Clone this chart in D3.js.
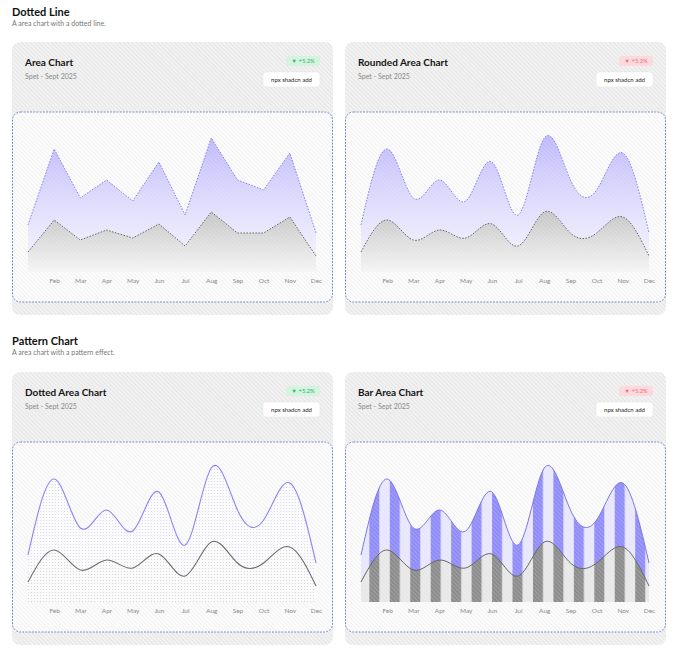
<!DOCTYPE html>
<html>
<head>
<meta charset="utf-8">
<script src="https://cdn.jsdelivr.net/npm/d3@7"></script>
<style>
  html, body { margin: 0; padding: 0; background: #ffffff; }
  svg { display: block; font-family: Lato, "Noto Sans", sans-serif; }
</style>
</head>
<body>
<div id="viz"></div>
<script>
// chart values
var months = ["Jan", "Feb", "Mar", "Apr", "May", "Jun", "Jul", "Aug", "Sep", "Oct", "Nov", "Dec"];
var tickMonths = ["Feb", "Mar", "Apr", "May", "Jun", "Jul", "Aug", "Sep", "Oct", "Nov", "Dec"];
var desktop = [94, 246, 148, 184, 142, 220, 114, 268, 184, 164, 238, 78];
var mobile = [40, 104, 64, 84, 68, 96, 52, 120, 78, 78, 110, 32];

var sections = [
	{ title: "Dotted Line", sub: "A area chart with a dotted line.", y: 16 },
	{ title: "Pattern Chart", sub: "A area chart with a pattern effect.", y: 345 }
];

var cardTitles = ["Area Chart", "Rounded Area Chart", "Dotted Area Chart", "Bar Area Chart"];
var cardTrends = ["up", "down", "up", "down"];
var cardStyles = ["dotted", "dotted", "dots", "bars"];
var cardPos = [[12, 42], [345, 42], [12, 372], [345, 372]];

var W = 680, H = 656, cardW = 321, cardH = 273;

var svg = d3.select("#viz")
	.append("svg")
	.attr("width", W)
	.attr("height", H);

var defs = svg.append("defs");

// diagonal hatch used on card backgrounds
function hatch(id, bg, line, width, opacity){
	var p = defs.append("pattern")
		.attr("id", id)
		.attr("patternUnits", "userSpaceOnUse")
		.attr("width", 3)
		.attr("height", 3)
		.attr("patternTransform", "rotate(-45)");
	if (bg) p.append("rect").attr("width", 3).attr("height", 3).attr("fill", bg);
	p.append("line")
		.attr("x1", 0.5).attr("y1", 0).attr("x2", 0.5).attr("y2", 3)
		.attr("stroke", line)
		.attr("stroke-width", width)
		.attr("stroke-opacity", opacity);
}
hatch("cardHatch", "#f2f2f2", "#e5e5e5", 1, 1);
hatch("boxHatch", "#fcfcfc", "#f0f0f0", 1, 1);
hatch("overHatch", null, "#ffffff", 0.8, 0.22);

function gradient(id, top, bottom, topOp, bottomOp){
	var g = defs.append("linearGradient")
		.attr("id", id)
		.attr("x1", 0).attr("y1", 0).attr("x2", 0).attr("y2", 1);
	g.append("stop").attr("offset", "0%").attr("stop-color", top).attr("stop-opacity", topOp);
	g.append("stop").attr("offset", "100%").attr("stop-color", bottom).attr("stop-opacity", bottomOp);
}
gradient("gradPurple", "#bdb7fb", "#f3f1ff", 1, 0.6);
gradient("gradGray", "#c4c4c4", "#f4f4f4", 1, 0.9);

function dots(id, color){
	var p = defs.append("pattern")
		.attr("id", id)
		.attr("patternUnits", "userSpaceOnUse")
		.attr("width", 3)
		.attr("height", 3);
	p.append("rect").attr("width", 3).attr("height", 3).attr("fill", "#fbfbfb");
	p.append("circle").attr("cx", 1.5).attr("cy", 1.5).attr("r", 0.6).attr("fill", color);
}
dots("dotsPurple", "#d4d1f2");
dots("dotsGray", "#cfcfcf");

function stripes(id, dark, light){
	var period = 20.45;
	var p = defs.append("pattern")
		.attr("id", id)
		.attr("patternUnits", "userSpaceOnUse")
		.attr("x", 3.9)
		.attr("width", period)
		.attr("height", 10);
	p.append("rect").attr("width", period).attr("height", 10).attr("fill", light);
	p.append("rect").attr("width", 10).attr("height", 10).attr("fill", dark);
}
stripes("stripesPurple", "#8f8cf8", "#e7e6fd");
stripes("stripesGray", "#8c8c8c", "#e7e7e7");

// section headers
sections.forEach(function(s){
	svg.append("text")
		.attr("x", 12).attr("y", s.y)
		.attr("font-size", 11).attr("font-weight", 700).attr("fill", "#111")
		.text(s.title);
	svg.append("text")
		.attr("x", 12).attr("y", s.y + 9.5)
		.attr("font-size", 7).attr("fill", "#777")
		.text(s.sub);
});

var x = d3.scalePoint().domain(months).range([16, 304]);
var y = d3.scaleLinear().domain([0, 300]).range([230, 80]);

var styles = {
	dotted: {
		fillTop: "url(#gradPurple)", fillBottom: "url(#gradGray)",
		strokeTop: "#8a82ec", strokeBottom: "#6a6a6a", dash: "1.6 1.4", width: 1
	},
	dots: {
		fillTop: "url(#dotsPurple)", fillBottom: "url(#dotsGray)",
		strokeTop: "#8d85f0", strokeBottom: "#6c6c6c", dash: null, width: 1.1
	},
	bars: {
		fillTop: "url(#stripesPurple)", fillBottom: "url(#stripesGray)",
		strokeTop: "#7d76e4", strokeBottom: "#666666", dash: null, width: 1
	}
};

cardTitles.forEach(function(title, i){
	var g = svg.append("g").attr("transform", "translate(" + cardPos[i][0] + "," + cardPos[i][1] + ")");
	var st = styles[cardStyles[i]];
	var curve = i === 0 ? d3.curveLinear : d3.curveNatural;

	g.append("rect")
		.attr("width", cardW).attr("height", cardH)
		.attr("rx", 8)
		.attr("fill", "url(#cardHatch)");

	g.append("text")
		.attr("x", 13).attr("y", 24)
		.attr("font-size", 10).attr("font-weight", 700).attr("fill", "#141414")
		.text(title);
	g.append("text")
		.attr("x", 13).attr("y", 36.5)
		.attr("font-size", 7).attr("fill", "#8a8a8a")
		.text("Spet - Sept 2025");

	// trend badge
	var up = cardTrends[i] === "up";
	g.append("rect")
		.attr("x", 274).attr("y", 14).attr("width", 34).attr("height", 10).attr("rx", 3)
		.attr("fill", up ? "#d4f4df" : "#fbd9dc");
	g.append("text")
		.attr("x", 291).attr("y", 21.3)
		.attr("text-anchor", "middle")
		.attr("font-size", 5.8).attr("fill", up ? "#2fb36b" : "#ef6f7d")
		.text("\u25BC +5.2%");

	// button
	g.append("rect")
		.attr("x", 251).attr("y", 30).attr("width", 57).attr("height", 15).attr("rx", 3)
		.attr("fill", "#ffffff")
		.attr("stroke", "#e6e6e6").attr("stroke-width", 0.6);
	g.append("text")
		.attr("x", 279.5).attr("y", 39.8)
		.attr("text-anchor", "middle")
		.attr("font-size", 6).attr("fill", "#222")
		.text("npx shadcn add");

	// chart box
	g.append("rect")
		.attr("x", 0.5).attr("y", 70).attr("width", 320).attr("height", 190).attr("rx", 8)
		.attr("fill", "url(#boxHatch)");

	var area = d3.area()
		.x(function(d, k){ return x(months[k]); })
		.y0(y(0))
		.y1(function(d){ return y(d); })
		.curve(curve);
	var line = d3.line()
		.x(function(d, k){ return x(months[k]); })
		.y(function(d){ return y(d); })
		.curve(curve);

	g.append("path").datum(desktop).attr("d", area).attr("fill", st.fillTop);
	g.append("path").datum(mobile).attr("d", area).attr("fill", st.fillBottom);

	g.append("rect")
		.attr("x", 0.5).attr("y", 70).attr("width", 320).attr("height", 190).attr("rx", 8)
		.attr("fill", "url(#overHatch)");

	g.append("path").datum(desktop).attr("d", line)
		.attr("fill", "none").attr("stroke", st.strokeTop)
		.attr("stroke-width", st.width)
		.attr("stroke-dasharray", st.dash);
	g.append("path").datum(mobile).attr("d", line)
		.attr("fill", "none").attr("stroke", st.strokeBottom)
		.attr("stroke-width", st.width)
		.attr("stroke-dasharray", st.dash);

	g.append("rect")
		.attr("x", 0.5).attr("y", 70).attr("width", 320).attr("height", 190).attr("rx", 8)
		.attr("fill", "none")
		.attr("stroke", "#6f86d8").attr("stroke-width", 1)
		.attr("stroke-dasharray", "1.8 1.4");

	var axis = g.append("g")
		.attr("transform", "translate(0," + y(0) + ")")
		.call(d3.axisBottom(x).tickValues(tickMonths).tickSize(0).tickPadding(6.5));
	axis.select(".domain").remove();
	axis.selectAll("text")
		.attr("font-family", "Lato, 'Noto Sans', sans-serif")
		.attr("font-size", 6.5)
		.attr("fill", "#8a8a8a");
});
</script>
</body>
</html>
